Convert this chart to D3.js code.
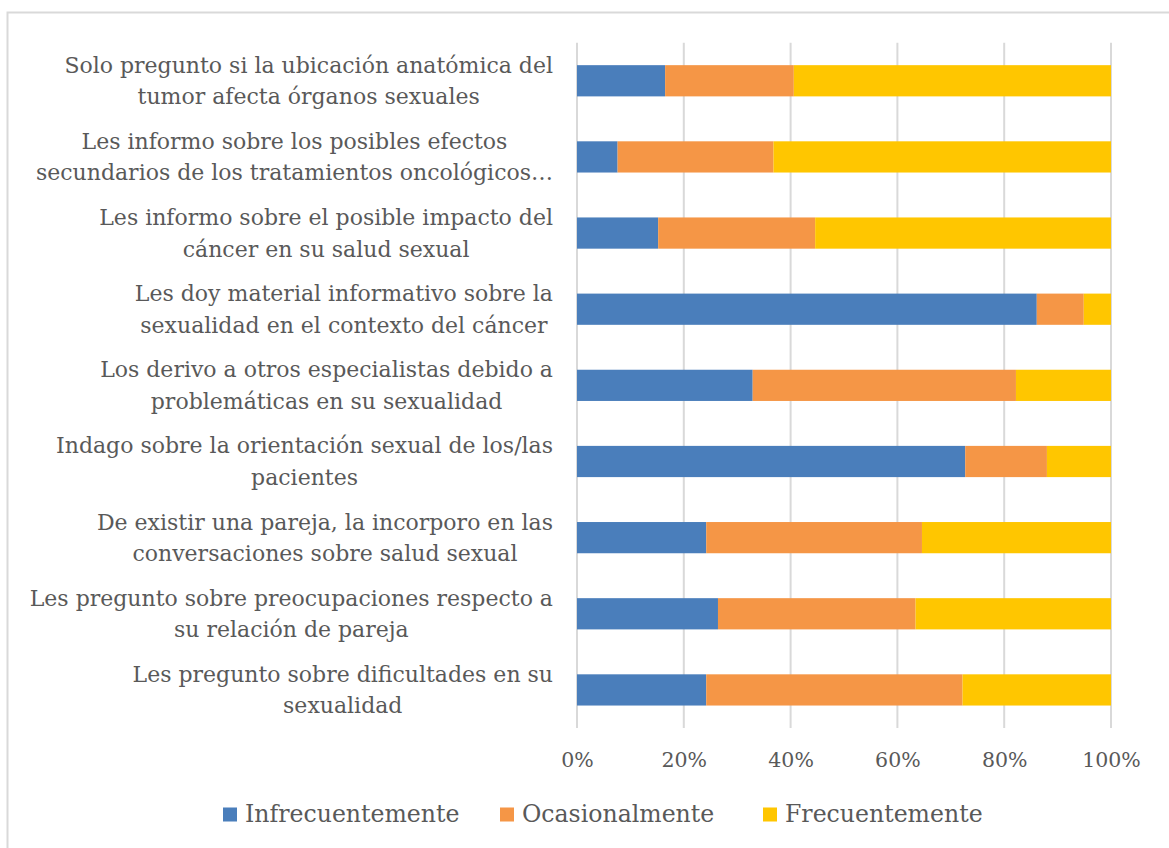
<!DOCTYPE html>
<html><head><meta charset="utf-8">
<script src="https://cdn.jsdelivr.net/npm/d3@7/dist/d3.min.js"></script>
<style>
body{margin:0;background:#fff;}
svg{display:block;}
text{font-family:"DejaVu Serif","Liberation Serif",serif;fill:#595959;}
</style></head>
<body><svg id="c" width="1169" height="848"></svg>
<script>
const categories = [
  ["Solo pregunto si la ubicación anatómica del", "tumor afecta órganos sexuales"],
  ["Les informo sobre los posibles efectos", "secundarios de los tratamientos oncológicos…"],
  ["Les informo sobre el posible impacto del", "cáncer en su salud sexual"],
  ["Les doy material informativo sobre la", "sexualidad en el contexto del cáncer"],
  ["Los derivo a otros especialistas debido a", "problemáticas en su sexualidad"],
  ["Indago sobre la orientación sexual de los/las", "pacientes"],
  ["De existir una pareja, la incorporo en las", "conversaciones sobre salud sexual"],
  ["Les pregunto sobre preocupaciones respecto a", "su relación de pareja"],
  ["Les pregunto sobre dificultades en su", "sexualidad"]
];
const seriesNames = ["Infrecuentemente", "Ocasionalmente", "Frecuentemente"];
const infrecuentemente = [16.5, 7.6, 15.2, 86.1, 32.9, 72.7, 24.2, 26.4, 24.2];
const ocasionalmente   = [24.1, 29.2, 29.4, 8.8, 49.3, 15.3, 40.4, 37.0, 48.0];
const frecuentemente   = [59.4, 63.2, 55.4, 5.1, 17.8, 12.0, 35.4, 36.6, 27.8];
const tickValues = [0, 20, 40, 60, 80, 100];
const colors = ["#4A7EBB", "#F59646", "#FFC600"];

const svg = d3.select("#c");

// frame (extends past right and bottom edges as in the reference)
svg.append("rect").attr("x", 7.5).attr("y", 12.5).attr("width", 1180).attr("height", 860)
  .attr("fill", "#fff").attr("stroke", "#d9d9d9").attr("stroke-width", 2);

const ids = categories.map((d, i) => i);
const plotTop = 42.7, plotBottom = 728;
const y = d3.scaleBand().domain(ids).range([plotTop, plotBottom]).paddingInner(0.59).paddingOuter(0.295);
const x = d3.scaleLinear().domain([0, 100]).range([577, 1111]);

// gridlines
svg.append("g").selectAll("line").data(tickValues).join("line")
  .attr("x1", d => x(d)).attr("x2", d => x(d))
  .attr("y1", plotTop).attr("y2", plotBottom)
  .attr("stroke", "#d9d9d9").attr("stroke-width", 2);

// stack
const rows = ids.map(i => ({
  i, Infrecuentemente: infrecuentemente[i], Ocasionalmente: ocasionalmente[i], Frecuentemente: frecuentemente[i]
}));
const stack = d3.stack().keys(seriesNames)(rows);
svg.append("g").selectAll("g").data(stack).join("g")
  .attr("fill", (d, k) => colors[k])
  .selectAll("rect").data(d => d).join("rect")
  .attr("x", d => x(d[0]))
  .attr("width", d => x(d[1]) - x(d[0]))
  .attr("y", d => y(d.data.i))
  .attr("height", y.bandwidth());

// x axis labels
const axis = d3.axisBottom(x).tickValues(tickValues).tickFormat(d => d + "%").tickSize(0).tickPadding(0);
const ax = svg.append("g").attr("transform", "translate(0,752)").call(axis);
ax.select(".domain").remove();
ax.selectAll("text").attr("font-size", 20.5).attr("fill", "#595959")
  .attr("font-family", '"DejaVu Serif","Liberation Serif",serif');

// category labels
const labelRight = 553;
const lg = svg.append("g").attr("font-size", 22);
categories.forEach((lines, i) => {
  const cy = y(i) + y.bandwidth() / 2;
  const g = lg.append("g");
  const texts = lines.map((t, j) => g.append("text")
    .attr("y", cy + (j - (lines.length - 1) / 2) * 31.5)
    .attr("dy", "0.35em")
    .attr("text-anchor", "middle").text(t));
  const maxW = d3.max(texts, t => t.node().getComputedTextLength());
  texts.forEach(t => t.attr("x", labelRight - maxW / 2));
});

// legend
const legendX = [223, 500, 763];
const leg = svg.append("g");
seriesNames.forEach((n, k) => {
  leg.append("rect").attr("x", legendX[k]).attr("y", 807.5).attr("width", 14).attr("height", 14).attr("fill", colors[k]);
  leg.append("text").attr("x", legendX[k] + 22).attr("y", 814).attr("dy", "0.35em")
    .attr("font-size", 23.6).text(n);
});
</script></body></html>
